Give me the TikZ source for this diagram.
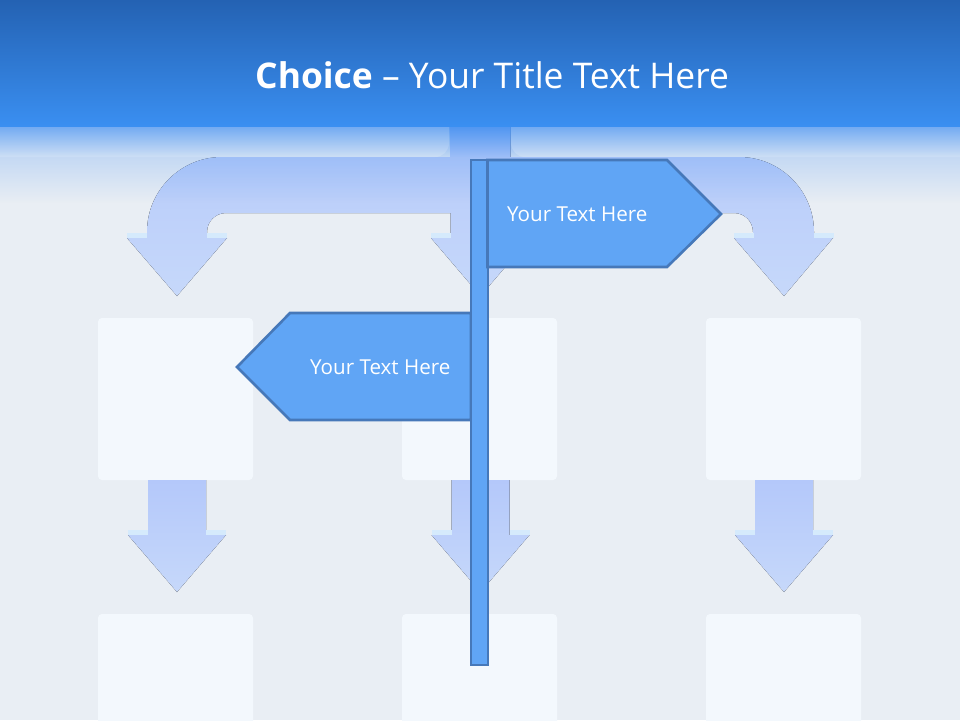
\documentclass[tikz,border=0pt]{standalone}
\usepackage{fontspec}
\setmainfont{Open Sans}
\begin{document}
\begin{tikzpicture}[x=1pt,y=-1pt]
\definecolor{bg}{HTML}{E9EEF4}
\definecolor{boxc}{HTML}{F3F8FD}
\definecolor{arrtop}{HTML}{B4C8FA}
\definecolor{arrbot}{HTML}{C6D8FA}
\definecolor{strip}{HTML}{D5EAFC}
\definecolor{titletop}{HTML}{2462B3}
\definecolor{titlebot}{HTML}{3A8FF1}
\definecolor{fadeblue}{HTML}{4490F0}
\definecolor{flagfill}{HTML}{60A5F5}
\definecolor{flagline}{HTML}{4678B9}
\tikzset{
  flag/.style={fill=flagfill, draw=flagline, line width=2.6pt, line join=miter},
  bgarrow/.style={top color=arrtop, bottom color=arrbot},
  flagtext/.style={text=white, font=\fontsize{20.6}{24}\selectfont, inner sep=0pt},
  bgbox/.style={fill=boxc, rounded corners=4pt}
}
\useasboundingbox (0,0) rectangle (960,720);
\fill[bg] (0,0) rectangle (960,720);
% background boxes
\foreach \c in {175.5,479.5,783.5} {
  \fill[bgbox] ({\c-77.5},318) rectangle ({\c+77.5},480);
  \fill[bgbox] ({\c-77.5},614) rectangle ({\c+77.5},740);
}
% lower down arrows
\foreach \c in {177,480.5,784} {
  \fill[bgarrow] ({\c-29},480) -- ({\c-29},535) -- ({\c-49},535) -- (\c,592)
     -- ({\c+49},535) -- ({\c+29},535) -- ({\c+29},480) -- cycle;
  \fill[strip] ({\c-49},530) rectangle ({\c-29},535);
  \fill[strip] ({\c+29},530) rectangle ({\c+49},535);
}
% big top arrow structure
\fill[bgarrow] (450,110) -- (450,157) -- (222,157) .. controls (180.6,157) and (147,190.6) .. (147,232)
  -- (147,238) -- (127,238) -- (177,296) -- (227,238) -- (207,238) -- (207,232)
  .. controls (207,221.5) and (215.5,213) .. (226,213)
  -- (450.5,213) -- (450.5,238) -- (431,238) -- (480.5,296) -- (530,238) -- (510.5,238) -- (510.5,213)
  -- (734,213) .. controls (744.5,213) and (753,221.5) .. (753,232)
  -- (753,238) -- (734,238) -- (784,296) -- (833,238) -- (814,238) -- (814,232)
  .. controls (814,190.6) and (780.4,157) .. (739,157) -- (510.5,157) -- (510.5,110) -- cycle;
\foreach \c in {177,480.5,784} {
  \fill[strip] ({\c-50},233) rectangle ({\c-30},238);
  \fill[strip] ({\c+30},233) rectangle ({\c+50},238);
}
% fade below the title bar
\foreach \i in {0,...,77} {
  \pgfmathsetmacro{\yy}{125+\i}
  \pgfmathsetmacro{\op}{\i<32 ? 0.92-0.7*\i/32 : max(0,0.22*(1-(\i-32)/46))}
  \fill[fadeblue, opacity=\op] (0,\yy) rectangle (960,\yy+1.05);
}
% light reflections under the title bar
\fill[white, opacity=0.17, rounded corners=14pt] (-20,100) rectangle (449,157);
\fill[white, opacity=0.17, rounded corners=14pt] (511,100) rectangle (980,157);
% title bar
\fill[top color=titletop, bottom color=titlebot] (0,0) rectangle (960,126);
\node[anchor=base west, text=white, inner sep=0pt, font=\fontsize{35.4}{42}\selectfont] (title) at (255,88)
  {\textbf{Choice} – Your Title Text Here};
% signpost
\draw[flag] (471,313) -- (290,313) -- (237,367) -- (290,420) -- (471,420) -- cycle;
\draw[flag] (471,160) rectangle (488,665);
\draw[flag] (487.5,160) -- (667,160) -- (721,214) -- (667,267) -- (487.5,267) -- cycle;
\node[flagtext, anchor=base west] (t1) at (507,221) {Your Text Here};
\node[flagtext, anchor=base west] (t2) at (310,374) {Your Text Here};
\end{tikzpicture}
\end{document}
